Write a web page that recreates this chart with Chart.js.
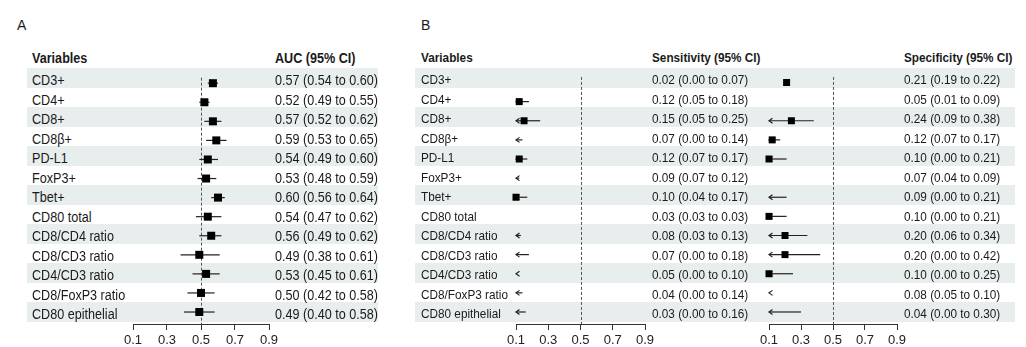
<!DOCTYPE html>
<html>
<head>
<meta charset="utf-8">
<script src="https://cdn.jsdelivr.net/npm/chart.js@4.4.1/dist/chart.umd.min.js"></script>
<style>
  html, body { margin:0; padding:0; background:#fff; }
  body { width:1026px; height:347px; position:relative; overflow:hidden;
         font-family:'Liberation Sans', Arial, sans-serif; color:#1a1a1a; }
  .band { position:absolute; background:#e8eded; }
  .t { position:absolute; white-space:nowrap; transform-origin:0 50%; }
  .hd { font-weight:bold; }
  .panel { position:absolute; font-size:14px; }
  canvas { position:absolute; }
</style>
</head>
<body>
<div class="panel" style="left:17px;top:17px;">A</div>
<div class="panel" style="left:421px;top:17px;">B</div>
<canvas id="cA" width="176" height="279" style="left:113px;top:68px;"></canvas>
<canvas id="cS" width="169" height="279" style="left:496px;top:68px;"></canvas>
<canvas id="cP" width="168" height="279" style="left:749px;top:68px;"></canvas>
<script>
// ---------- data ----------
const variables = ['CD3+','CD4+','CD8+','CD8β+','PD-L1','FoxP3+','Tbet+','CD80 total',
  'CD8/CD4 ratio','CD8/CD3 ratio','CD4/CD3 ratio','CD8/FoxP3 ratio','CD80 epithelial'];

const aucEst = [0.57,0.52,0.57,0.59,0.54,0.53,0.60,0.54,0.56,0.49,0.53,0.50,0.49];
const aucLo  = [0.54,0.49,0.52,0.53,0.49,0.48,0.56,0.47,0.49,0.38,0.45,0.42,0.40];
const aucHi  = [0.60,0.55,0.62,0.65,0.60,0.59,0.64,0.62,0.62,0.61,0.61,0.58,0.58];

const sensEst = [0.02,0.12,0.15,0.07,0.12,0.09,0.10,0.03,0.08,0.07,0.05,0.04,0.03];
const sensLo  = [0.00,0.05,0.05,0.00,0.07,0.07,0.04,0.03,0.03,0.00,0.00,0.00,0.00];
const sensHi  = [0.07,0.18,0.25,0.14,0.17,0.12,0.17,0.03,0.13,0.18,0.10,0.14,0.16];

const specEst = [0.21,0.05,0.24,0.12,0.10,0.07,0.09,0.10,0.20,0.20,0.10,0.08,0.04];
const specLo  = [0.19,0.01,0.09,0.07,0.00,0.04,0.00,0.00,0.06,0.00,0.00,0.05,0.00];
const specHi  = [0.22,0.09,0.38,0.17,0.21,0.09,0.21,0.21,0.34,0.42,0.25,0.10,0.30];

const tickValues = [0.1, 0.3, 0.5, 0.7, 0.9];
const refValue = 0.5;
const headersA = ['Variables', 'AUC (95% CI)'];
const headersB = ['Variables', 'Sensitivity (95% CI)', 'Specificity (95% CI)'];

// ---------- table (HTML text) ----------
const TOP = 68, ROW = 19.5, HEAD_Y = 58;
function addText(txt, left, centerY, size, sx, bold) {
  const d = document.createElement('div');
  d.className = 't' + (bold ? ' hd' : '');
  d.textContent = txt;
  d.style.left = left + 'px';
  d.style.top = (centerY - 10) + 'px';
  d.style.height = '20px';
  d.style.lineHeight = '20px';
  d.style.fontSize = size + 'px';
  d.style.transform = 'scaleX(' + sx + ')';
  document.body.appendChild(d);
}
function addBand(left, width, i) {
  const b = document.createElement('div');
  b.className = 'band';
  b.style.left = left + 'px';
  b.style.width = width + 'px';
  b.style.top = (TOP + i * ROW) + 'px';
  b.style.height = ROW + 'px';
  document.body.insertBefore(b, document.body.firstChild);
}
const fmt = (e, l, h) => e.toFixed(2) + ' (' + l.toFixed(2) + ' to ' + h.toFixed(2) + ')';

variables.forEach((v, i) => {
  if (i % 2 === 0) { addBand(27, 351, i); addBand(415, 600, i); }
  const cy = TOP + i * ROW + ROW / 2 + 2.5;
  addText(v, 32, cy, 14, 0.9);
  addText(fmt(aucEst[i], aucLo[i], aucHi[i]), 275, cy, 14, 0.9);
  addText(v, 421, cy, 13, 0.905);
  addText(fmt(sensEst[i], sensLo[i], sensHi[i]), 652, cy, 13, 0.905);
  addText(fmt(specEst[i], specLo[i], specHi[i]), 904, cy, 13, 0.905);
});
addText(headersA[0], 32, HEAD_Y, 14, 0.9, true);
addText(headersA[1], 275, HEAD_Y, 14, 0.9, true);
addText(headersB[0], 421, HEAD_Y, 13, 0.905, true);
addText(headersB[1], 652, HEAD_Y, 13, 0.905, true);
addText(headersB[2], 904, HEAD_Y, 13, 0.905, true);

// ---------- charts ----------
Chart.defaults.font.family = "'Liberation Sans', Arial, sans-serif";
Chart.defaults.color = '#222';

function forestPlugin(lo, hi) {
  return {
    id: 'forest',
    beforeDatasetsDraw(chart) {
      const { ctx, chartArea, scales: { x, y } } = chart;
      ctx.save();
      ctx.strokeStyle = '#555';
      ctx.lineWidth = 1;
      ctx.setLineDash([3, 2]);
      const rx = Math.round(x.getPixelForValue(refValue)) + 0.5;
      ctx.beginPath();
      ctx.moveTo(rx, chartArea.top + 4);
      ctx.lineTo(rx, chartArea.bottom);
      ctx.stroke();
      ctx.setLineDash([]);
      ctx.strokeStyle = '#222';
      ctx.lineWidth = 1.2;
      lo.forEach((l, i) => {
        const h = hi[i];
        if (h < x.min) return;
        const yy = y.getPixelForValue(i);
        const a = x.getPixelForValue(Math.max(l, x.min));
        const b = x.getPixelForValue(Math.min(h, x.max));
        ctx.beginPath();
        ctx.moveTo(a, yy); ctx.lineTo(b, yy);
        ctx.stroke();
        if (l < x.min) {
          ctx.beginPath();
          ctx.moveTo(a + 3.5, yy - 2.5);
          ctx.lineTo(a, yy);
          ctx.lineTo(a + 3.5, yy + 2.5);
          ctx.stroke();
        }
      });
      ctx.restore();
    }
  };
}

function makeForest(id, est, lo, hi, boxSide) {
  const r = boxSide / 2 / Math.SQRT1_2;
  const plotH = 256;
  new Chart(document.getElementById(id), {
    type: 'scatter',
    data: {
      datasets: [{
        data: est.map((v, i) => ({ x: v, y: i })),
        pointStyle: 'rect',
        pointRadius: c => (c.raw && c.raw.x < tickValues[0]) ? 0 : r,
        pointHoverRadius: c => (c.raw && c.raw.x < tickValues[0]) ? 0 : r,
        backgroundColor: '#000',
        borderColor: '#000',
        borderWidth: 0,
        clip: false
      }]
    },
    options: {
      responsive: false,
      animation: false,
      events: [],
      layout: { padding: { left: 20, right: 20, top: 0, bottom: 0 } },
      plugins: { legend: { display: false }, tooltip: { enabled: false } },
      scales: {
        x: {
          type: 'linear',
          min: tickValues[0],
          max: tickValues[tickValues.length - 1],
          afterBuildTicks: s => { s.ticks = tickValues.map(v => ({ value: v })); },
          afterFit: s => { s.height = 279 - plotH; },
          ticks: { callback: v => Number(v).toFixed(1), font: { size: 13 }, color: '#222', padding: 3, maxRotation: 0, autoSkip: false },
          grid: { drawOnChartArea: false, drawTicks: true, tickLength: 6, color: '#333', lineWidth: 1 },
          border: { display: true, color: '#333', width: 1 }
        },
        y: {
          type: 'linear',
          display: false,
          reverse: true,
          min: -0.5,
          max: -0.5 + plotH / ROW
        }
      }
    },
    plugins: [forestPlugin(lo, hi)]
  });
}

makeForest('cA', aucEst, aucLo, aucHi, 8);
makeForest('cS', sensEst, sensLo, sensHi, 7);
makeForest('cP', specEst, specLo, specHi, 7);
</script>
</body>
</html>
